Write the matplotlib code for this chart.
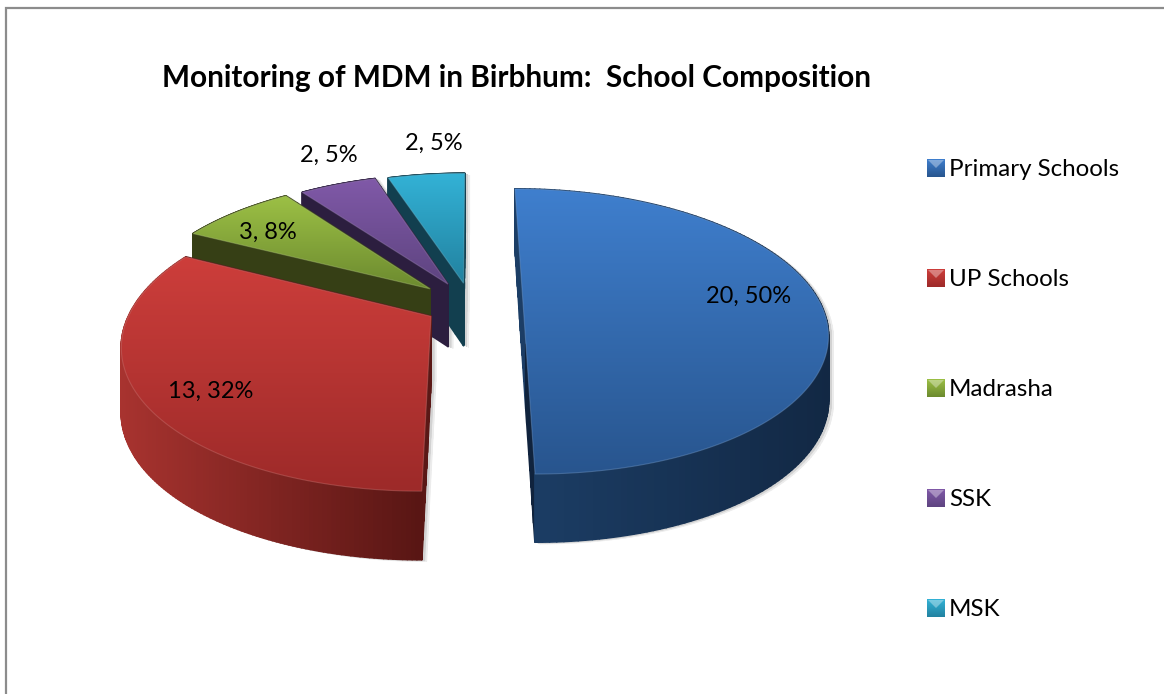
import matplotlib
matplotlib.use('Agg')
import matplotlib.pyplot as plt
from matplotlib.collections import PolyCollection
from matplotlib.colors import to_rgb
from matplotlib.patches import Polygon
import numpy as np

plt.rcParams['font.family'] = ['Lato', 'DejaVu Sans']

title = 'Monitoring of MDM in Birbhum:  School Composition'
categories = ['Primary Schools', 'UP Schools', 'Madrasha', 'SSK', 'MSK']
counts = [20, 13, 3, 2, 2]

# face top, face bottom, side light, side dark, cut face
top_colors = ['#3f7fce', '#cd3e3b', '#9cc045', '#8059a8', '#33b2d6']
bottom_colors = ['#28558e', '#9d2a29', '#6c8a2f', '#5e4480', '#2282a0']
side_light = ['#1c3e66', '#a8332f', '#3b4517', '#2e1f42', '#134253']
side_dark = ['#122844', '#561513', '#333c13', '#281a3a', '#103845']
cut_colors = ['#10233d', '#5a1816', '#363f15', '#2c1e3f', '#123f4f']

label_x = [749, 211, 268, 329, 434]
label_y = [296, 391, 232, 155, 143]
legend_y = [168, 278, 388, 498, 608]
explode = [0.175, 0.155, 0.185, 0.175, 0.165]

# projection of the flat pie on to the picture
CX, CY = 471, 305
A, B, K = 298, 137.6, 0.186
DEPTH = 68


def project(u, v):
    s = 1 + K * v
    return CX + A * u / s, CY - B * v / s


def gradient(ax, c1, c2, box, z, horizontal=False):
    c = np.linspace(to_rgb(c1), to_rgb(c2), 128)
    img = c[None, :, :] if horizontal else c[:, None, :]
    return ax.imshow(img, extent=box, aspect='auto', zorder=z, interpolation='bilinear')


fig = plt.figure(figsize=(11.64, 6.94), dpi=100)
helper = fig.add_axes([0, 0, 0.1, 0.1])
wedges, _ = helper.pie(counts, startangle=90, counterclock=False, radius=1.0, explode=explode)
helper.set_visible(False)

ax = fig.add_axes([0, 0, 1, 1])
ax.axis('off')

shapes = []
for w in wedges:
    th = np.radians(np.linspace(w.theta1, w.theta2, 160))
    cu, cv = w.center
    u = np.r_[cu, cu + w.r * np.cos(th)]
    v = np.r_[cv, cv + w.r * np.sin(th)]
    # straight cuts get a few points too so the side strips are even
    u = np.r_[np.linspace(cu, u[1], 12)[:-1], u[1:], np.linspace(u[-1], cu, 12)[1:-1]]
    v = np.r_[np.linspace(cv, v[1], 12)[:-1], v[1:], np.linspace(v[-1], cv, 12)[1:-1]]
    x, y = project(u, v)
    d = DEPTH - 5 * (v + 1)
    shapes.append((x, y, d, len(u)))


def side_quads(x, y, d):
    x2, y2, d2 = np.roll(x, -1), np.roll(y, -1), np.roll(d, -1)
    quads = np.stack([np.c_[x, y], np.c_[x2, y2], np.c_[x2, y2 + d2], np.c_[x, y + d]], axis=1)
    return quads[np.argsort(quads[:, :, 1].mean(axis=1))]


# soft shadow first
for off, col in [(5, '#ececec'), (3, '#d2d2d2')]:
    for x, y, d, n in shapes:
        q = side_quads(x + off, y + off * 0.4, d)
        ax.add_collection(PolyCollection(q, facecolors=col, edgecolors=col, linewidths=0.5, zorder=1))

z = 2
for i in [4, 3, 2, 1, 0]:
    x, y, d, n = shapes[i]
    q = side_quads(x, y, d)
    mids = q[:, :, 0].mean(axis=1)
    span = (mids - x.min()) / max(x.max() - x.min(), 1)
    light, dark = np.array(to_rgb(side_light[i])), np.array(to_rgb(side_dark[i]))
    cols = light + (dark - light) * span[:, None]
    # strips on the straight cuts are darker than the round wall
    length = np.hypot(*(q[:, 1] - q[:, 0]).T)
    cols[length > np.median(length) * 3] = to_rgb(cut_colors[i])
    ax.add_collection(PolyCollection(q, facecolors=cols, edgecolors=cols, linewidths=1.4, zorder=z))
    z += 1

    poly = np.c_[x, y]
    im = gradient(ax, top_colors[i], bottom_colors[i], [x.min(), x.max(), y.max(), y.min()], z)
    im.set_clip_path(Polygon(poly, closed=True, transform=ax.transData))
    rim = np.array(to_rgb(top_colors[i])) * 0.6 + 0.4 * 0.8
    ax.add_patch(Polygon(poly, closed=True, fill=False, edgecolor=rim, linewidth=0.8, alpha=0.4, zorder=z + 1))
    z += 2

total = sum(counts)
for i, c in enumerate(counts):
    ax.text(label_x[i], label_y[i], f'{c}, {round(c / total * 100)}%', fontsize=17,
            ha='center', va='center', color='black', zorder=50)

ax.text(517, 78, title, fontsize=21.4, fontweight='bold', ha='center', va='center', color='black')

# legend swatches with the little bevel
for i, name in enumerate(categories):
    yc = legend_y[i]
    gradient(ax, top_colors[i], bottom_colors[i], [927, 945, yc + 9, yc - 9], 30)
    ax.add_patch(Polygon([(928, yc - 8), (944, yc - 8), (936, yc)], closed=True,
                         facecolor='white', alpha=0.35, edgecolor='none', zorder=31))
    ax.text(949, yc + 1, name, fontsize=17.4, ha='left', va='center', color='black', zorder=31)

# chart frame, cut off at right and bottom
ax.plot([6, 6, 1164], [694, 8, 8], color='#8c8c8c', linewidth=1.6, solid_joinstyle='miter', zorder=40)

ax.set_xlim(0, 1164)
ax.set_ylim(694, 0)
fig.savefig('out.png', dpi=100)
